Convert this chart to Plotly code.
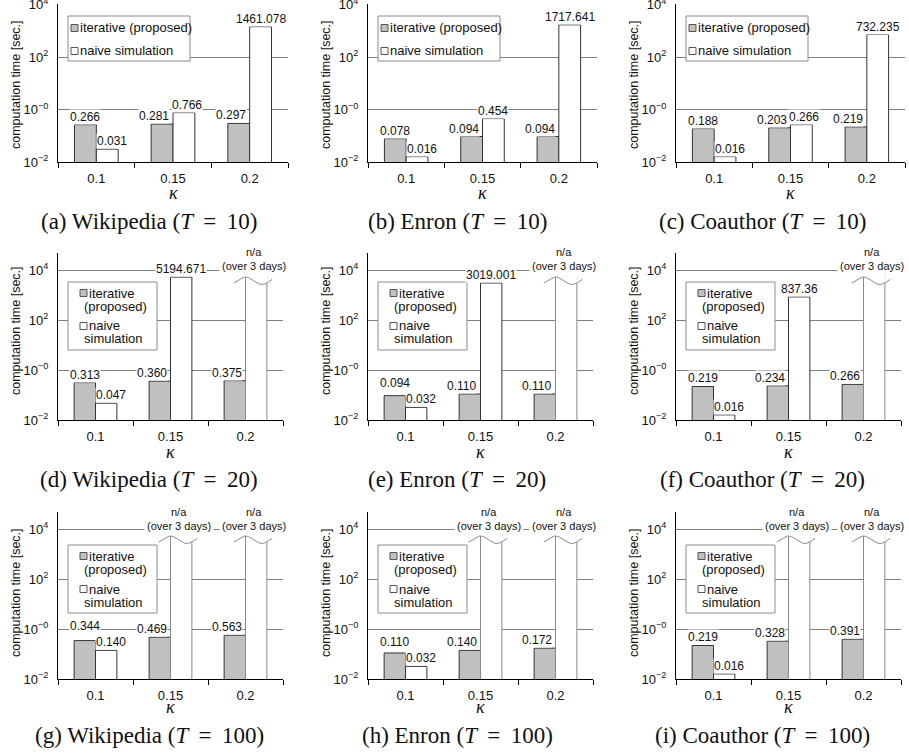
import math
import plotly.graph_objects as go

W, H = 909, 756

# ---------------- data ----------------
kappa_labels = ["0.1", "0.15", "0.2"]
datasets = ["Wikipedia", "Enron", "Coauthor"]
T_values = [10, 20, 100]
panel_letters = ["a", "b", "c", "d", "e", "f", "g", "h", "i"]

# computation time [sec.] ; order of inner lists: Wikipedia, Enron, Coauthor
iterative_T10 = [[0.266, 0.281, 0.297], [0.078, 0.094, 0.094], [0.188, 0.203, 0.219]]
iterative_T20 = [[0.313, 0.360, 0.375], [0.094, 0.110, 0.110], [0.219, 0.234, 0.266]]
iterative_T100 = [[0.344, 0.469, 0.563], [0.110, 0.140, 0.172], [0.219, 0.328, 0.391]]
naive_T10 = [[0.031, 0.766, 1461.078], [0.016, 0.454, 1717.641], [0.016, 0.266, 732.235]]
naive_T20 = [[0.047, 5194.671, None], [0.032, 3019.001, None], [0.016, 837.36, None]]
naive_T100 = [[0.140, None, None], [0.032, None, None], [0.016, None, None]]

iterative_by_T = [iterative_T10, iterative_T20, iterative_T100]
naive_by_T = [naive_T10, naive_T20, naive_T100]

y_tick_vals = [0.01, 1, 100, 10000]
y_tick_text = ["10<sup>−2</sup>", "10<sup>−0</sup>", "10<sup>2</sup>", "10<sup>4</sup>"]

# ---------------- layout geometry (pixels) ----------------
col_left = [58, 368, 676]
col_right = [[288, 597, 905], [283, 593, 901], [283, 593, 901]]
row_top = [4, 253, 512]
row_bottom = [162, 420, 679]
y_top_log = [4.03, 4.68, 4.68]
caption_y = [221, 479, 735]
kappa_y = [193, 452, 707]
col_center = [149, 457, 762]
ytitle_y = [85, 331, 593]

legend_top = [16, 282, 545]
legend_h = [45, 68, 68]

BW = 0.285            # bar width (category units)
NA_BAR_LOG = 3.8      # drawn height of "n/a" bars (log10), cut by wave
WAVE_MID, WAVE_AMP = 3.57, 0.15

GREY = "#c0c0c0"
EDGE = "#333333"
GRID = "#808080"
FONT = "Liberation Sans, Arial, sans-serif"
SERIF = "Liberation Serif, Times New Roman, serif"


def X(px):
    return px / W


def Y(py):
    return 1 - py / H


def fmt(v):
    return f"{v:.3f}" if v < 1 else str(v)


fig = go.Figure()
layout = dict(
    width=W, height=H, margin=dict(l=0, r=0, t=0, b=0, autoexpand=False),
    paper_bgcolor="white", plot_bgcolor="white", showlegend=False,
    barmode="overlay",
    font=dict(family=FONT, size=13, color="#111111"),
)
annotations = []
shapes = []

for k in range(9):
    r, c = divmod(k, 3)
    s = "" if k == 0 else str(k + 1)
    xa, ya = "x" + s, "y" + s
    iters = iterative_by_T[r][c]
    naive = naive_by_T[r][c]
    xs = [0, 1, 2]
    px_per_dec = (row_bottom[r] - row_top[r]) / (y_top_log[r] + 2)

    layout["xaxis" + s] = dict(
        domain=[X(col_left[c]), X(col_right[r][c])], anchor=ya, automargin=False,
        range=[-0.5, 2.5], tickmode="array", tickvals=xs, ticktext=kappa_labels,
        ticks="", showline=True, linecolor="black", linewidth=1,
        showgrid=False, zeroline=False, fixedrange=True,
        tickfont=dict(size=13, family=FONT, color="#111111"),
        ticklabelstandoff=4,
        minor=dict(tickmode="array", tickvals=[-0.5, 0.5, 1.5, 2.5], ticks="outside",
                   ticklen=5, tickcolor="black", tickwidth=1, showgrid=False),
    )
    layout["yaxis" + s] = dict(
        domain=[Y(row_bottom[r]), Y(row_top[r])], anchor=xa, automargin=False,
        type="log", range=[-2, y_top_log[r]],
        tickmode="array", tickvals=y_tick_vals, ticktext=y_tick_text,
        ticks="", showline=True, linecolor="black", linewidth=1,
        showgrid=True, gridcolor=GRID, gridwidth=1, zeroline=False,
        tickfont=dict(size=13, family=FONT, color="#111111"),
        ticklabelstandoff=6, fixedrange=True, ticklabeloverflow="allow",
    )

    # bars
    fig.add_trace(go.Bar(
        x=xs, y=iters, width=BW, offset=-BW, xaxis=xa, yaxis=ya,
        marker=dict(color=GREY, line=dict(color=EDGE, width=1)),
        hoverinfo="skip", name="iterative (proposed)",
    ))
    naive_plot = [v if v is not None else 10 ** NA_BAR_LOG for v in naive]
    naive_edge = [EDGE if v is not None else "#8a8a8a" for v in naive]
    fig.add_trace(go.Bar(
        x=xs, y=naive_plot, width=BW, offset=0, xaxis=xa, yaxis=ya,
        marker=dict(color="white", line=dict(color=naive_edge, width=1)),
        hoverinfo="skip", name="naive simulation",
    ))

    # value labels
    for i in xs:
        v = iters[i]
        nv = naive[i]
        grey_shift, white_shift, grey_raise = 0, 0, 0
        if nv is None or nv > v:
            grey_shift = -8
            if nv is not None and (math.log10(nv) - math.log10(v)) * px_per_dec < 14:
                white_shift = 3
        elif v > nv:
            white_shift = 5
            gap = (math.log10(v) - math.log10(nv)) * px_per_dec
            if gap < 16:
                grey_raise = 16 - gap
        annotations.append(dict(
            x=i - BW / 2, y=math.log10(v), xref=xa, yref=ya, text=fmt(v),
            showarrow=False, yanchor="middle", yshift=8 + grey_raise, xshift=grey_shift,
            bgcolor="white", borderpad=0,
            font=dict(size=12, family=FONT, color="#111111"),
        ))
        if nv is not None:
            annotations.append(dict(
                x=i + BW / 2, y=math.log10(nv), xref=xa, yref=ya, text=fmt(nv),
                showarrow=False, yanchor="middle", yshift=8, xshift=white_shift,
                bgcolor="white", borderpad=0,
                font=dict(size=12, family=FONT, color="#111111"),
            ))
        else:
            L, R = i, i + BW
            n = 60
            # cover part of bar above the wave
            cx = [L - 0.01 + (R - L + 0.02) * t / n for t in range(n + 1)]
            cy = [10 ** (WAVE_MID + WAVE_AMP * math.cos(math.pi * (x - L) / (0.77 * BW))) for x in cx]
            fig.add_trace(go.Scatter(
                x=cx + [R + 0.01, L - 0.01], y=cy + [10 ** (NA_BAR_LOG + 0.15)] * 2,
                xaxis=xa, yaxis=ya, mode="lines", fill="toself", fillcolor="white",
                line=dict(width=0, color="white"), hoverinfo="skip",
            ))
            wx0, wx1 = L - 0.55 * BW, R + 0.25 * BW
            wx = [wx0 + (wx1 - wx0) * t / n for t in range(n + 1)]
            wy = [10 ** (WAVE_MID + WAVE_AMP * math.cos(math.pi * (x - L) / (0.77 * BW))) for x in wx]
            fig.add_trace(go.Scatter(
                x=wx, y=wy, xaxis=xa, yaxis=ya, mode="lines",
                line=dict(color="#8a8a8a", width=1), hoverinfo="skip",
            ))
            base = 4.16 if r == 1 else 4.12
            annotations.append(dict(
                x=i + BW / 2, y=base, xref=xa, yref=ya, text="(over 3 days)",
                showarrow=False, yanchor="middle", xshift=-2, bgcolor="white", borderpad=2,
                font=dict(size=11, family=FONT, color="#111111"),
            ))
            annotations.append(dict(
                x=i + BW / 2, y=base, xref=xa, yref=ya, text="n/a", yshift=14, xshift=-2,
                showarrow=False, yanchor="middle",
                font=dict(size=11, family=FONT, color="#111111"),
            ))

    # legend (drawn manually)
    x0 = col_left[c]
    top = legend_top[r]
    if r == 0:
        bx0, bx1 = x0 + 10, x0 + 132
        entries = [(GREY, ["iterative (proposed)"], [12]), ("white", ["naive simulation"], [35])]
        sq_x, txt_x, txt2_x = x0 + 13, x0 + 20, x0 + 20
    else:
        bx0, bx1 = x0 + 10, x0 + 99
        entries = [(GREY, ["iterative", "(proposed)"], [11, 24]),
                   ("white", ["naive", "simulation"], [44, 57])]
        sq_x, txt_x, txt2_x = x0 + 22, x0 + 29, x0 + 24
    shapes.append(dict(type="rect", xref="paper", yref="paper",
                       x0=X(bx0), x1=X(bx1), y0=Y(top + legend_h[r]), y1=Y(top),
                       fillcolor="white", line=dict(color="#8c8c8c", width=1), layer="above"))
    for color, lines, offs in entries:
        cy0 = top + offs[0]
        shapes.append(dict(type="rect", xref="paper", yref="paper",
                           x0=X(sq_x), x1=X(sq_x + 7), y0=Y(cy0 + 3.5), y1=Y(cy0 - 3.5),
                           fillcolor=color, line=dict(color="#555555", width=1), layer="above"))
        for j, (ln, off) in enumerate(zip(lines, offs)):
            annotations.append(dict(
                x=X(txt_x if j == 0 else txt2_x), y=Y(top + off), xref="paper", yref="paper",
                text=ln, showarrow=False, xanchor="left", yanchor="middle",
                font=dict(size=13, family=FONT, color="#111111"),
            ))

    # axis titles & caption
    annotations.append(dict(
        x=X(col_left[c] - 42), y=Y(ytitle_y[r]), xref="paper", yref="paper",
        text="computation time [sec.]", textangle=-90, showarrow=False,
        xanchor="center", yanchor="middle", font=dict(size=12.5, family=FONT, color="#111111"),
    ))
    annotations.append(dict(
        x=X((col_left[c] + col_right[r][c]) / 2), y=Y(kappa_y[r]), xref="paper", yref="paper",
        text="<i>κ</i>", showarrow=False, xanchor="center", yanchor="middle",
        font=dict(size=18, family=SERIF, color="#111111"),
    ))
    annotations.append(dict(
        x=X(col_center[c]), y=Y(caption_y[r]), xref="paper", yref="paper",
        text=f"({panel_letters[k]}) {datasets[c]} (<i>T</i> \u2009=\u2009 {T_values[r]})",
        showarrow=False, xanchor="center", yanchor="middle",
        font=dict(size=23, family=SERIF, color="#111111"),
    ))

layout["annotations"] = annotations
layout["shapes"] = shapes
fig.update_layout(**layout)
fig.write_html("out.html", config={"displayModeBar": False, "staticPlot": True},
               post_script="document.body.style.margin='0';document.body.style.padding='0';")
